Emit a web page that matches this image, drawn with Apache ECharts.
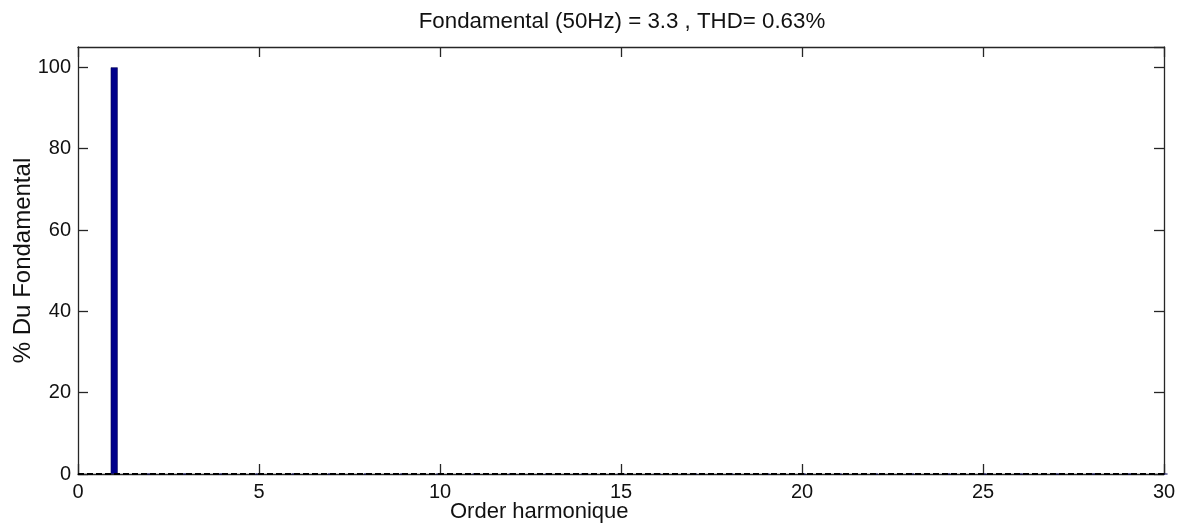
<!DOCTYPE html>
<html>
<head>
<meta charset="utf-8">
<script src="https://cdn.jsdelivr.net/npm/echarts@6/dist/echarts.min.js"></script>
<style>
  html, body { margin: 0; padding: 0; background: #fff; overflow: hidden; }
  #chart { width: 1182px; height: 525px; }
</style>
</head>
<body>
<div id="chart"></div>
<script>
// Harmonic spectrum: amplitude of each harmonic order as % of the fundamental
const harmonicOrders = [1, 2, 3, 4, 5, 6, 7, 8, 9, 10, 11, 12, 13, 14, 15,
                        16, 17, 18, 19, 20, 21, 22, 23, 24, 25, 26, 27, 28, 29, 30];
const percentOfFundamental = [100, 0, 0, 0, 0, 0, 0, 0, 0, 0, 0, 0, 0, 0, 0,
                              0, 0, 0, 0, 0, 0, 0, 0, 0, 0, 0, 0, 0, 0, 0];
const baselineX = [0, 30];
const baselineY = [0, 0];
const titleText = 'Fondamental (50Hz) = 3.3 , THD= 0.63%';
const xAxisName = 'Order harmonique';
const yAxisName = '% Du Fondamental';

const FONT = '"Liberation Sans", Arial, sans-serif';
const AXIS_COLOR = '#262626';

const chart = echarts.init(document.getElementById('chart'), null, { renderer: 'canvas' });

const barData = harmonicOrders.map((h, i) => [h, percentOfFundamental[i]]);
const baseData = baselineX.map((x, i) => [x, baselineY[i]]);

const xCommon = {
  type: 'value', min: 0, max: 30, interval: 5,
  axisLine: { show: true, onZero: false, lineStyle: { color: AXIS_COLOR, width: 1.3 } },
  axisTick: { show: true, inside: true, length: 10, lineStyle: { color: AXIS_COLOR, width: 1.3 } },
  splitLine: { show: false }
};
const yCommon = {
  type: 'value', min: 0, max: 105, interval: 20,
  axisLine: { show: true, onZero: false, lineStyle: { color: AXIS_COLOR, width: 1.3 } },
  axisTick: { show: true, inside: true, length: 10, lineStyle: { color: AXIS_COLOR, width: 1.3 } },
  splitLine: { show: false }
};

chart.setOption({
  animation: false,
  backgroundColor: '#fff',
  title: {
    text: titleText,
    left: 617, top: 6, textAlign: 'center',
    textStyle: { fontFamily: FONT, fontSize: 22.3, fontWeight: 'normal', color: '#111' }
  },
  grid: {
    left: 78, right: 18, top: 47, bottom: 51,
    containLabel: false, outerBoundsMode: 'none'
  },
  graphic: [
    {
      type: 'text',
      left: 540 - 90, bottom: 2,
      style: { text: xAxisName, fontFamily: FONT, fontSize: 22, fill: '#111' }
    }
  ],
  xAxis: [
    Object.assign({}, xCommon, {
      position: 'bottom',
      axisLabel: { show: true, margin: 8, fontFamily: FONT, fontSize: 20, color: '#111' }
    }),
    Object.assign({}, xCommon, {
      position: 'top',
      axisLabel: { show: false }
    })
  ],
  yAxis: [
    Object.assign({}, yCommon, {
      position: 'left',
      name: yAxisName, nameLocation: 'middle', nameGap: 43, nameRotate: 90,
      nameMoveOverlap: false,
      nameTextStyle: { fontFamily: FONT, fontSize: 24, color: '#111' },
      axisLabel: { show: true, margin: 7, showMaxLabel: false, fontFamily: FONT, fontSize: 20, color: '#111' }
    }),
    Object.assign({}, yCommon, {
      position: 'right',
      axisLabel: { show: false }
    })
  ],
  series: [
    {
      type: 'bar',
      xAxisIndex: 0, yAxisIndex: 0,
      data: barData,
      barWidth: 7,
      itemStyle: { color: '#00008b', borderColor: '#000050', borderWidth: 0.6 },
      z: 2
    },
    {
      type: 'line',
      xAxisIndex: 0, yAxisIndex: 0,
      data: baseData,
      symbol: 'none',
      lineStyle: { color: '#000', width: 2, type: [6, 3] },
      z: 3
    }
  ]
});
</script>
</body>
</html>
